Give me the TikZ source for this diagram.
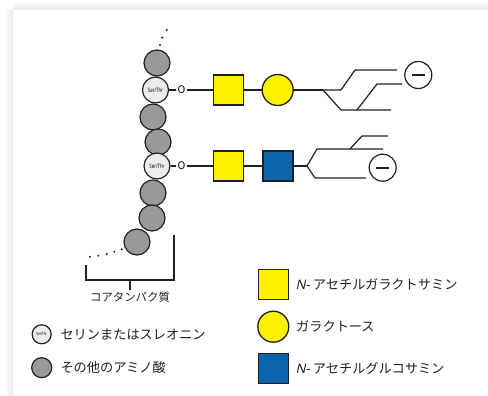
\documentclass[tikz,border=0pt]{standalone}
\usepackage{fontspec}
\setmainfont{Noto Sans CJK JP}
\newfontfamily\serfont{Noto Sans}[FakeStretch=0.72]
\newfontfamily\nfont{Noto Sans}[FakeSlant=0.22]
\usetikzlibrary{positioning}
\definecolor{aagray}{RGB}{153,153,153}
\definecolor{serfill}{RGB}{236,236,236}
\definecolor{galyellow}{RGB}{255,241,0}
\definecolor{glcblue}{RGB}{12,101,170}
\definecolor{inkline}{RGB}{35,31,32}
\tikzset{residue/.style={circle, draw=inkline, line width=1.2pt, fill=aagray, minimum size=26pt, inner sep=0pt}}
\tikzset{serthr/.style={residue, fill=serfill, font=\serfont\bfseries\fontsize{6}{7}\selectfont}}
\tikzset{galnac/.style={rectangle, draw=inkline, line width=1.3pt, fill=galyellow, minimum size=30pt, inner sep=0pt}}
\tikzset{glcnac/.style={galnac, fill=glcblue}}
\tikzset{galc/.style={circle, draw=inkline, line width=1.3pt, fill=galyellow, minimum size=31pt, inner sep=0pt}}
\tikzset{charge/.style={circle, draw=inkline, line width=1.2pt, minimum size=27pt, inner sep=0pt,
    path picture={\draw[line width=1.7pt] ([xshift=-6.5pt]path picture bounding box.center) -- ([xshift=6.5pt]path picture bounding box.center);}}}
\tikzset{chain/.style={draw=inkline, line width=1.2pt}}
\tikzset{linkage/.style={font=\fontsize{10.5}{12}\selectfont, inner sep=1.5pt}}
\tikzset{legendtext/.style={right, inner sep=0pt, font=\fontsize{13.2}{15}\selectfont, text=inkline}}
\tikzset{gap/.style={circle, fill=inkline, inner sep=0pt, minimum size=2.2pt}}
\newcommand{\nacetyl}{{\nfont N-}\hspace{3pt}}
\begin{document}
\begin{tikzpicture}[x=1pt, y=-1pt]
\useasboundingbox (0,0) rectangle (488,396);
\shade[top color=white, bottom color=black!9] (13,2) rectangle (488,10);
\shade[left color=white, right color=black!9] (5,10) rectangle (13,396);
% peptide chain
\node[gap] (t1) at (166.7,30) {};
\node[gap] (t2) at (162.3,37.5) {};
\node[gap] (t3) at (160,45) {};
\node[residue] (c1) at (157,63) {};
\node[serthr] (st1) at (155.5,90) {Ser/Thr};
\node[residue] (c3) at (153,117) {};
\node[residue] (c4) at (158,142) {};
\node[serthr] (st2) at (157,166) {Ser/Thr};
\node[residue] (c6) at (153,193) {};
\node[residue] (c7) at (152,218) {};
\node[residue] (c8) at (137,242) {};
\foreach \x/\y [count=\i] in {90/256.7, 98.3/255.7, 106.7/254, 114.3/251.7, 121.7/249.3}
  \node[gap] (d\i) at (\x,\y) {};
% bracket
\coordinate (br1) at (86,265);
\coordinate (br2) at (174,235);
\coordinate (brm) at (130,280);
\draw[chain] (br1) -- (br1 |- brm) -- (br2 |- brm) -- (br2);
\draw[chain] (brm) -- ++(0,10) node[below, inner sep=1pt, font=\fontsize{11.4}{13}\selectfont, text=inkline] (core) {コアタンパク質};
% first glycan
\node[linkage] (o1) at (181.5,90) {O};
\node[galnac] (gn1) at (228.5,90) {};
\node[galc] (ga1) at (277.7,90) {};
\coordinate (b1) at (323,90);
\coordinate (b1s) at (357,110);
\node[charge] (m1) at (418.3,75) {};
\draw[chain] (st1) -- (o1) -- (gn1) -- (ga1) -- (b1);
\draw[chain] (b1) -- ++(18,0) -- ++(14,-20) -- ++(42,0);
\draw[chain] (b1) -- ++(18,20) -- ++(50,0);
\draw[chain] (b1s) -- ++(20,-26) -- ++(25,0);
% second glycan
\node[linkage] (o2) at (181.5,166) {O};
\node[galnac] (gn2) at (228.5,166) {};
\node[glcnac] (gc2) at (278,166) {};
\coordinate (b2) at (307,166);
\coordinate (b2s) at (350,149);
\node[charge] (m2) at (382.7,167.7) {};
\draw[chain] (st2) -- (o2) -- (gn2) -- (gc2) -- (b2);
\draw[chain] (b2) -- ++(10,-17) -- ++(66,0);
\draw[chain] (b2s) -- ++(12,-13) -- ++(26,0);
\draw[chain] (b2) -- ++(8,12) -- ++(51,0);
% legend
\node[serthr, minimum size=19pt, font=\serfont\bfseries\fontsize{4.2}{5}\selectfont] (kst) at (41.7,334.3) {Ser/Thr};
\node[legendtext, right=8.5pt of kst] (kstt) {セリンまたはスレオニン};
\node[residue, minimum size=20pt] (kaa) at (41.7,367.7) {};
\node[legendtext, right=8pt of kaa] (kaat) {その他のアミノ酸};
\node[galnac] (kgn) at (273.8,284.3) {};
\node[legendtext, right=6pt of kgn] (kgnt) {\nacetyl アセチルガラクトサミン};
\node[galc] (kga) at (273.3,326.7) {};
\node[legendtext, right=6.5pt of kga] (kgat) {ガラクトース};
\node[glcnac] (kgc) at (273.8,368.7) {};
\node[legendtext, right=6pt of kgc] (kgct) {\nacetyl アセチルグルコサミン};
\end{tikzpicture}
\end{document}
